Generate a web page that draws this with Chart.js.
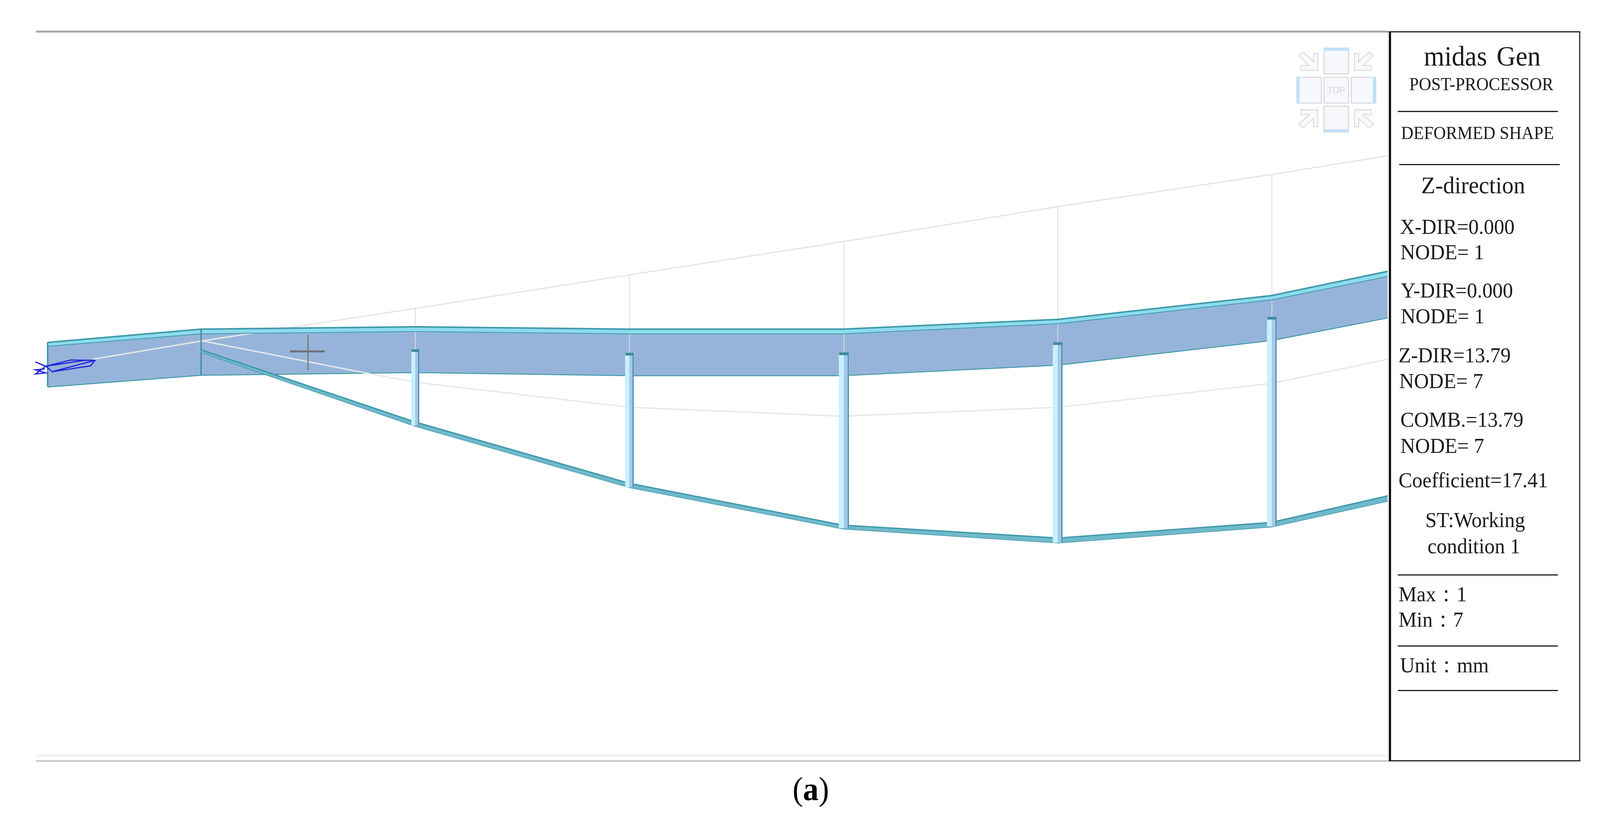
<!DOCTYPE html>
<html>
<head>
<meta charset="utf-8">
<title>midas Gen deformed shape</title>
<script src="https://cdn.jsdelivr.net/npm/chart.js@4"></script>
<style>
  html, body { margin: 0; padding: 0; background: #fff; overflow: hidden; }
  #wrap { position: relative; width: 100vw; height: 100vh; overflow: hidden; }
  #chart { position: absolute; left: 0; top: 0; }
  #overlay { position: absolute; left: 0; top: 0; width: 4296px; height: 2136px; transform-origin: 0 0; }
  #panel { position: absolute; left: 3729px; top: 80px; width: 514px; height: 1870px; background: #fff; box-sizing: border-box;
           border-left: 6px solid #111; border-right: 3px solid #222; border-top: 3px solid #222; border-bottom: 3px solid #222; }
  .rule { position: absolute; height: 3px; background: #1c1c1c; }
  .lbl { position: absolute; white-space: pre; line-height: 0; font-family: "Liberation Serif", serif; color: #1b1b1b; }
  #compass { position: absolute; left: 3440px; top: 100px; }
</style>
</head>
<body>
<div id="wrap">
  <canvas id="chart"></canvas>
  <div id="overlay">
    <svg id="compass" width="280" height="262" viewBox="0 0 280 262"></svg>
    <div id="panel"></div>
  </div>
</div>
<script>
// girder stations along the bridge
const stationX = [128, 540, 1115, 1690, 2263, 2841, 3414, 3726];
const deckTopOuter = [877, 843, 837, 843, 843, 818, 757, 695];
const deckTopInner = [886, 854, 848, 854, 854, 828, 767, 707];
const deckBottom = [990, 960, 953, 961, 961, 934, 871, 813];

const chordX = [540, 1115, 1690, 2263, 2841, 3414, 3726];
const chordUpper = [896, 1081, 1238, 1345, 1378, 1338, 1270];
const chordLower = [902, 1091, 1248, 1354, 1390, 1349, 1283];

const columnX = [1115, 1690, 2266, 2840, 3415];
const columnWidth = [20, 22, 26, 25, 25];
const columnTop = [895, 904, 903, 877, 812];
const columnBottom = [1090, 1248, 1353, 1390, 1348];

// undeformed model in light grey
const shadowUpperX = [249, 543, 1115, 1690, 2263, 2841, 3414, 3726];
const shadowUpperY = [920, 873, 790, 704, 619, 529, 447, 399];
const shadowLowerX = [543, 953, 1115, 1690, 2263, 2841, 3414, 3726];
const shadowLowerY = [873, 950, 979, 1043, 1066, 1043, 982, 920];

const crossHX = [779, 872];
const crossHY = [900, 900];
const crossVX = [827, 827];
const crossVY = [857, 948];

const supportX = [123, 190, 255, 243, 140, 123, 233];
const supportY = [938, 922, 923, 937, 952, 938, 922];
const supportInnerX = [143, 255];
const supportInnerY = [951, 923];
const arrowX = [95, 123, 95, 123, 95, 120];
const arrowY = [927, 938, 958, 955, 947, 945];

const frameX = [96, 3729];
const frameTopY = [81, 81];
const frameBottomY = [1949, 1949];
const frameBottomFaintY = [1935, 1935];

const panelLabels = ['midas Gen', 'POST-PROCESSOR', 'DEFORMED SHAPE', 'Z-direction', 'X-DIR=0.000', 'NODE= 1',
  'Y-DIR=0.000', 'NODE= 1', 'Z-DIR=13.79', 'NODE= 7', 'COMB.=13.79', 'NODE= 7', 'Coefficient=17.41',
  'ST:Working', 'condition 1', 'Max：1', 'Min：7', 'Unit：mm'];

const TEAL = '#3f9aaa';
const datasets = [];

function series(xs, ys) {
  return xs.map((x, i) => ({ x: x, y: ys[i] }));
}

function addLine(xs, ys, color, width, extra) {
  datasets.push(Object.assign({
    data: series(xs, ys),
    borderColor: color,
    borderWidth: width,
    pointRadius: 0,
    tension: 0,
    fill: false,
    borderCapStyle: 'butt',
    borderJoinStyle: 'miter'
  }, extra || {}));
  return datasets.length - 1;
}

// frame lines
addLine(frameX, frameBottomFaintY, '#eeeeee', 4);
addLine(frameX, frameTopY, '#a6a6a6', 5);
addLine(frameX, frameBottomY, '#c6c6c6', 4);

// deck web, filled down to the bottom edge
let bottomIdx = addLine(stationX, deckBottom, TEAL, 5);
addLine(stationX, deckTopInner, TEAL, 3.5, { fill: bottomIdx, backgroundColor: '#96b4d9' });

// grey undeformed lines sit on top of the web but under the columns
addLine(shadowUpperX, shadowUpperY, '#e4e7ea', 3.5);
addLine(shadowLowerX, shadowLowerY, '#e6e8ea', 3.5);
columnX.forEach((x, i) => {
  addLine([x, x], [shadowUpperY[i + 2], columnTop[i]], '#dcdcdc', 2);
});

// top flange strip
let innerIdx = addLine(stationX, deckTopInner, TEAL, 4);
addLine(stationX, deckTopOuter, TEAL, 4, { fill: innerIdx, backgroundColor: '#8edbee' });

// end and joint verticals
addLine([128, 128], [877, 990], TEAL, 4);
addLine([540, 540], [843, 960], '#2f8a99', 3);

// cross hair
addLine(crossHX, crossHY, '#6f6f6f', 5);
addLine(crossVX, crossVY, '#767676', 3);

// lower chord
let chordIdx = addLine(chordX, chordLower, '#4a9fb0', 3.5);
addLine(chordX, chordUpper, TEAL, 3.5, { fill: chordIdx, backgroundColor: '#70b9cc' });

// columns: light face, shaded side, dark edge, cap
columnX.forEach((x, i) => {
  const w = columnWidth[i];
  const ys = [columnTop[i], columnBottom[i]];
  addLine([x, x], ys, '#c8f1fd', w);
  addLine([x + w * 0.2, x + w * 0.2], ys, '#a3c8ec', w * 0.4);
  addLine([x + w * 0.45, x + w * 0.45], ys, '#4f8ba6', 3);
  addLine([x - w / 2, x + w / 2], [columnTop[i] + 3, columnTop[i] + 3], '#3f8b9c', 7);
});

// support symbol
addLine(supportX, supportY, '#2323dc', 3);
addLine(supportInnerX, supportInnerY, '#2323dc', 3);
addLine(arrowX, arrowY, '#2323dc', 3);

// first dataset is drawn on top by default, so flip it
datasets.forEach((d, i) => { d.order = datasets.length - i; });

// the window can come up narrower than the 4296 asked for, so fill what is really there
const canvas = document.getElementById('chart');
canvas.width = window.innerWidth;
canvas.height = window.innerHeight;
document.getElementById('overlay').style.transform =
  'scale(' + (window.innerWidth / 4296) + ',' + (window.innerHeight / 2136) + ')';

new Chart(canvas, {
  type: 'line',
  data: { datasets: datasets },
  options: {
    responsive: false,
    devicePixelRatio: 1,
    animation: false,
    layout: { padding: 0 },
    plugins: { legend: { display: false }, tooltip: { enabled: false }, title: { display: false } },
    scales: {
      x: { type: 'linear', display: false, min: 0, max: 4296 },
      y: { type: 'linear', display: false, min: 0, max: 2136, reverse: true }
    }
  }
});

// side panel text
const panelLayout = [
  [3823, 168, 71], [3784, 232, 46], [3762, 357, 46], [3816, 495, 62],
  [3759, 600, 55], [3760, 665, 55], [3761, 763, 55], [3761, 829, 55],
  [3755, 929, 55], [3757, 995, 55], [3760, 1094, 55], [3760, 1161, 55],
  [3755, 1249, 55], [3827, 1351, 55], [3833, 1418, 55], [3755, 1541, 55],
  [3755, 1606, 55], [3759, 1723, 55]
];
const overlay = document.getElementById('overlay');
function addText(text, left, baseline, size) {
  const el = document.createElement('div');
  el.className = 'lbl';
  el.textContent = text;
  el.style.left = left + 'px';
  el.style.top = (baseline - 0.3375 * size) + 'px';
  el.style.fontSize = size + 'px';
  overlay.appendChild(el);
  return el;
}
panelLabels.forEach((t, i) => {
  const p = panelLayout[i];
  addText(t, p[0], p[1], p[2]);
});
overlay.querySelector('.lbl').style.wordSpacing = '8px';

[[3753, 4183, 284], [3757, 4188, 420], [3753, 4183, 1471], [3753, 4183, 1653], [3753, 4183, 1767]].forEach(r => {
  const el = document.createElement('div');
  el.className = 'rule';
  el.style.left = r[0] + 'px';
  el.style.width = (r[1] - r[0]) + 'px';
  el.style.top = r[2] + 'px';
  overlay.appendChild(el);
});

// caption
const cap = addText('', 2128, 2049, 84);
cap.innerHTML = '(<b>a</b>)';
cap.style.color = '#000';

// view cube in the corner
const cells = [[115, 23], [115, 98], [42, 98], [188, 98], [115, 172]];
const edges = [[115, 23, 66, 7], [41, 98, 8, 66], [246, 98, 8, 66], [115, 231, 66, 7]];
const arrowPts = '98,80 53,80 53,68 75,68 48,43 58,33 87,58 87,37 98,37';
const flips = ['', 'translate(295,0) scale(-1,1)', 'translate(0,261.4) scale(1,-1)', 'translate(295,261.4) scale(-1,-1)'];
let svg = '';
cells.forEach(c => {
  svg += '<rect x="' + c[0] + '" y="' + c[1] + '" width="66" height="66" fill="#f7f8fb" stroke="#d6d6d6" stroke-width="2.5"/>';
});
edges.forEach(e => {
  svg += '<rect x="' + e[0] + '" y="' + e[1] + '" width="' + e[2] + '" height="' + e[3] + '" fill="#bfe1f6"/>';
});
flips.forEach(f => {
  svg += '<polygon points="' + arrowPts + '" transform="' + f + '" fill="#fafafa" stroke="#dadada" stroke-width="2.5"/>';
});
svg += '<text x="148" y="139" text-anchor="middle" font-family="Liberation Sans, sans-serif" font-size="23" fill="#d2d2d2">TOP</text>';
document.getElementById('compass').innerHTML = svg;
</script>
</body>
</html>
